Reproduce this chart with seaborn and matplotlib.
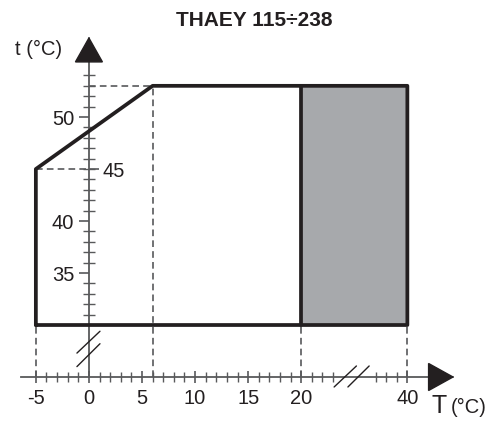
import numpy as np
import matplotlib
matplotlib.use("Agg")
import matplotlib.pyplot as plt
import seaborn as sns

# ---- data -------------------------------------------------------------
title = "THAEY 115÷238"
y_title = "t (°C)"
x_title_main = "T"
x_title_unit = "(°C)"

# operating envelope (outdoor T, water t)
envelope_T = [-5, -5, 6, 40, 40, -5]
envelope_t = [30, 45, 53, 53, 30, 30]

# shaded zone
shaded_T = [20, 40]
shaded_t = [30, 53]

x_major = [-5, 0, 5, 10, 15, 20, 40]
x_labels = ["-5", "0", "5", "10", "15", "20", "40"]
x_minor = [-4, -3, -2, -1, 1, 2, 3, 4, 6, 7, 8, 9, 11, 12, 13, 14,
           16, 17, 18, 19, 21, 22, 23, 37, 38, 39]
y_major = [35, 40, 50]
y_labels = ["35", "40", "50"]
y_right = [45]
y_right_labels = ["45"]
y_minor = [31, 32, 33, 34, 36, 37, 38, 39, 41, 42, 43, 44, 45,
           46, 47, 48, 49, 51, 52, 53, 54]

# ---- style ------------------------------------------------------------
sns.set_style("white")
plt.rcParams["font.family"] = ["Liberation Sans", "DejaVu Sans"]
INK = "#231f20"
AXC = "#58595b"
GREY = "#a7a9ac"
FS = 14.5


# broken horizontal axis: 24..36 squeezed into 24..26
def fwd(v):
    v = np.asarray(v, dtype=float)
    return np.where(v <= 24, v, np.where(v >= 36, v - 10, 24 + (v - 24) / 6))


def inv(u):
    u = np.asarray(u, dtype=float)
    return np.where(u <= 24, u, np.where(u >= 26, u + 10, 24 + (u - 24) * 6))


fig = plt.figure(figsize=(4.96, 4.21), dpi=100)
ax = fig.add_axes([21 / 496, 44 / 421, 432 / 496, 339 / 421])

# shaded zone
ax.fill_between(shaded_T, shaded_t[0], shaded_t[1], color=GREY, lw=0, zorder=2)

# envelope outline
sns.lineplot(x=envelope_T, y=envelope_t, sort=False, estimator=None,
             color=INK, lw=2.7, ax=ax, zorder=4)
sns.lineplot(x=[shaded_T[0], shaded_T[0]], y=shaded_t, sort=False,
             estimator=None, color=INK, lw=2.7, ax=ax, zorder=4)

ax.set_xscale("function", functions=(fwd, inv))
x_lo, x_hi = float(inv(-6.4)), float(inv(34.3))
y_lo, y_hi = 25, 57.6
ax.set_xlim(x_lo, x_hi)
ax.set_ylim(y_lo, y_hi)

# dashed guides
dash = dict(color=AXC, lw=1.2, dashes=(4, 2.5), zorder=3)
ax.plot([0, envelope_T[2]], [envelope_t[2]] * 2, **dash)
ax.plot([envelope_T[0], 0], [envelope_t[1]] * 2, **dash)
for xv, top in [(envelope_T[0], envelope_t[0]), (envelope_T[2], envelope_t[2]),
                (shaded_T[0], shaded_t[0]), (shaded_T[1], shaded_t[0])]:
    ax.plot([xv, xv], [y_lo, top], clip_on=False, **dash)

# axes lines
for s in ["top", "right"]:
    ax.spines[s].set_visible(False)
ax.spines["left"].set_position(("data", 0))
for s in ["left", "bottom"]:
    ax.spines[s].set_color(AXC)
    ax.spines[s].set_linewidth(1.3)
    ax.spines[s].set_zorder(3)

# arrow heads
ax.fill([-1.27, 1.27, 0], [55.3, 55.3, y_hi], color=INK, clip_on=False, zorder=5)
ax.fill(inv([32.0, 32.0, 34.3]), [y_lo - 1.3, y_lo + 1.3, y_lo],
        color=INK, clip_on=False, zorder=5)

# break marks
brk = dict(color=INK, lw=1.0, clip_on=False, zorder=5)
ax.plot([1.04, -1.13], [29.4, 27.3], **brk)
ax.plot([1.04, -1.13], [28.2, 26.0], **brk)
ax.plot(inv([23.1, 25.2]), [24.04, 26.06], **brk)
ax.plot(inv([24.4, 26.4]), [24.04, 26.06], **brk)

# ticks
ax.set_xticks(x_major, labels=x_labels)
ax.set_xticks(x_minor, minor=True)
ax.set_yticks(y_major, labels=y_labels)
ax.set_yticks(y_minor, minor=True)
ax.tick_params(axis="x", which="major", direction="inout", length=9, width=1.2,
               color=AXC, labelsize=FS, labelcolor=INK, pad=4, bottom=True)
ax.tick_params(axis="x", which="minor", direction="inout", length=7, width=1.0,
               color=AXC, bottom=True)
ax.tick_params(axis="y", which="major", direction="out", length=7.5, width=1.2,
               color=AXC, labelsize=FS, labelcolor=INK, pad=3, left=True)
ax.tick_params(axis="y", which="minor", direction="inout", length=8.5, width=1.0,
               color=AXC, left=True)

loc = (0 - fwd(x_lo)) / (fwd(x_hi) - fwd(x_lo))
sec = ax.secondary_yaxis(float(loc))
sec.set_alignment("right")
for s in sec.spines.values():
    s.set_visible(False)
sec.set_yticks(y_right, labels=y_right_labels)
sec.tick_params(axis="y", which="major", direction="out", length=7.5, width=1.2,
                color=AXC, labelsize=FS, labelcolor=INK, pad=2)
sec.tick_params(axis="y", which="minor", length=0)
sec.yaxis.set_minor_locator(matplotlib.ticker.NullLocator())

# titles
fig.text(254 / 496, 1 - 20 / 421, title, ha="center", va="center",
         fontsize=15, fontweight="bold", color=INK)
fig.text(15 / 496, 1 - 49 / 421, y_title, ha="left", va="center",
         fontsize=FS, color=INK)
fig.text(431 / 496, 1 - 413 / 421, x_title_main, ha="left", va="baseline",
         fontsize=18, color=INK)
fig.text(451 / 496, 1 - 413 / 421, x_title_unit, ha="left", va="baseline",
         fontsize=14.5, color=INK)

fig.savefig("out.png", dpi=100)
